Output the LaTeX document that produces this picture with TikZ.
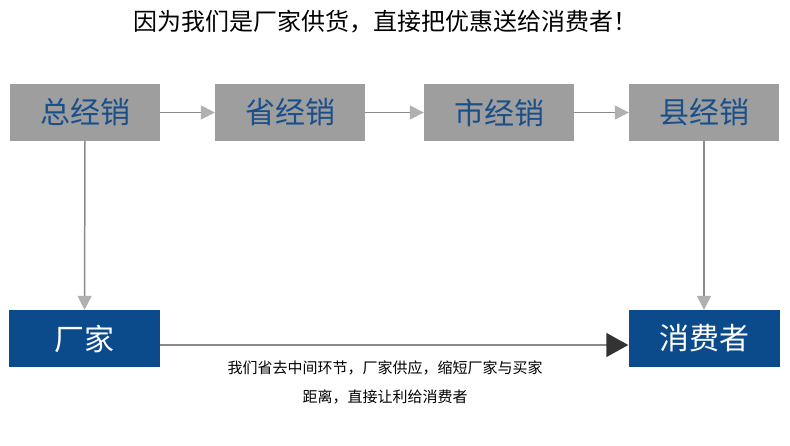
\documentclass[tikz,border=0pt]{standalone}
\usepackage{fontspec}
\setmainfont{Noto Sans CJK SC}
\usetikzlibrary{arrows.meta}
\definecolor{bx}{HTML}{9E9E9E}
\definecolor{tb}{HTML}{1A4F8A}
\definecolor{db}{HTML}{0B4A8B}
\definecolor{ln}{HTML}{8A8A8A}
\definecolor{tp}{HTML}{B0B0B0}
\begin{document}
\begin{tikzpicture}[x=1pt,y=-1pt,
 top/.style={fill=bx,minimum width=150pt,minimum height=57pt,inner sep=0,text=tb,font=\fontsize{30}{30}\selectfont},
 bot/.style={fill=db,minimum width=151pt,minimum height=57pt,inner sep=0,text=white,font=\fontsize{30}{30}\selectfont},
 ar/.style={draw=ln,line width=1.5pt,-{Triangle[length=14pt,width=14pt,color=tp]}}]
\useasboundingbox (0,0) rectangle (790,445);
\node[font=\fontsize{24}{24}\selectfont] (t) at (385,22) {因为我们是厂家供货，直接把优惠送给消费者！};
\node[top] (a) at (85,112.5) {总经销};
\node[top] (b) at (290,112.5) {省经销};
\node[top] (c) at (499,112.5) {市经销};
\node[top] (d) at (704,112.5) {县经销};
\node[bot] (e) at (84.5,338.5) {厂家};
\node[bot] (f) at (704,338.5) {消费者};
\draw[ar] (a) -- (b);
\draw[ar] (b) -- (c);
\draw[ar] (c) -- (d);
\draw[ar] (a) -- (e);
\draw[ar] (d) -- (f);
\draw[draw=ln,line width=1.5pt,-{Triangle[length=22pt,width=24pt,color=black!80]}] (e.east |- 0,345) -- (f.west |- 0,345);
\node[font=\fontsize{15}{15}\selectfont] (n1) at (385,368) {我们省去中间环节，厂家供应，缩短厂家与买家};
\node[font=\fontsize{15}{15}\selectfont] (n2) at (385,397) {距离，直接让利给消费者};
\end{tikzpicture}
\end{document}
